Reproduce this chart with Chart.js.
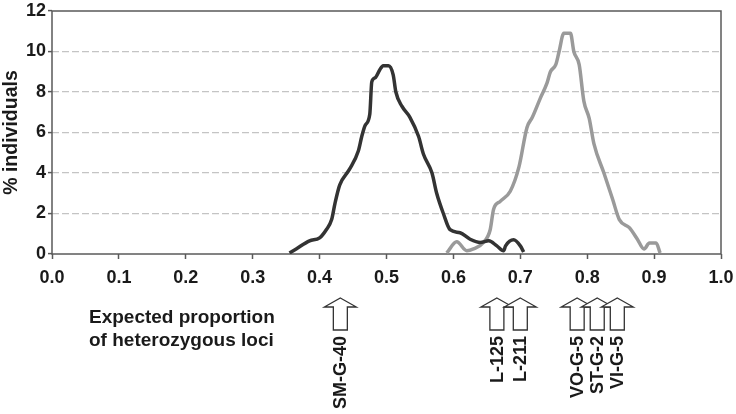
<!DOCTYPE html>
<html>
<head>
<meta charset="utf-8">
<script src="https://cdn.jsdelivr.net/npm/chart.js@4/dist/chart.umd.min.js"></script>
<style>
  html, body { margin: 0; padding: 0; background: #fff; }
  #wrap { width: 736px; height: 414px; position: relative; }
</style>
</head>
<body>
<div id="wrap"><canvas id="c" width="736" height="414"></canvas></div>
<script>
// ---- data ----
const darkX = [0.355, 0.365, 0.385, 0.40, 0.41, 0.418, 0.423, 0.43, 0.445, 0.458, 0.463, 0.468, 0.475, 0.478, 0.483, 0.49, 0.495, 0.503, 0.51, 0.514, 0.523, 0.535, 0.548, 0.555, 0.568, 0.575, 0.585, 0.595, 0.61, 0.625, 0.64, 0.653, 0.665, 0.675, 0.678, 0.69, 0.70, 0.705];
const darkY = [0.05, 0.25, 0.65, 0.8, 1.2, 1.7, 2.5, 3.4, 4.2, 5.1, 5.8, 6.35, 6.9, 8.5, 8.7, 9.1, 9.3, 9.3, 8.85, 8.0, 7.3, 6.75, 5.8, 4.95, 4.0, 3.0, 2.0, 1.2, 1.05, 0.73, 0.57, 0.65, 0.4, 0.16, 0.4, 0.7, 0.4, 0.1];
const lightX = [0.59, 0.605, 0.62, 0.63, 0.645, 0.655, 0.66, 0.67, 0.685, 0.698, 0.71, 0.718, 0.73, 0.74, 0.745, 0.753, 0.758, 0.765, 0.775, 0.78, 0.788, 0.795, 0.803, 0.81, 0.825, 0.838, 0.848, 0.863, 0.875, 0.885, 0.893, 0.903, 0.909];
const lightY = [0.05, 0.6, 0.16, 0.25, 0.57, 1.2, 2.2, 2.6, 3.1, 4.3, 6.25, 6.75, 7.7, 8.45, 9.0, 9.35, 10.0, 10.9, 10.9, 10.0, 9.35, 7.55, 6.7, 5.45, 4.0, 2.7, 1.7, 1.3, 0.73, 0.25, 0.54, 0.54, 0.05];
const arrowX = [0.431, 0.665, 0.700, 0.785, 0.815, 0.845];
const arrowLabels = ["SM-G-40", "L-125", "L-211", "VO-G-5", "ST-G-2", "VI-G-5"];
const xTickLabels = ["0.0", "0.1", "0.2", "0.3", "0.4", "0.5", "0.6", "0.7", "0.8", "0.9", "1.0"];
const yTickLabels = ["0", "2", "4", "6", "8", "10", "12"];
const yTitle = "% individuals";
const xTitleLines = ["Expected proportion", "of heterozygous loci"];

const FONT = "'Liberation Sans', Arial, sans-serif";
Chart.defaults.font.family = FONT;
Chart.defaults.font.size = 18;
Chart.defaults.font.weight = 'bold';
Chart.defaults.color = '#1a1a1a';

const toPts = (xs, ys) => xs.map((x, i) => ({ x: x, y: ys[i] }));

const extras = {
  id: 'extras',
  beforeDatasetsDraw(chart) {
    const { ctx, chartArea: a } = chart;
    ctx.save();
    ctx.strokeStyle = '#5a5a5a';
    ctx.lineWidth = 1.5;
    ctx.strokeRect(a.left, a.top, a.right - a.left, a.bottom - a.top);
    ctx.restore();
  },
  afterDraw(chart) {
    const { ctx } = chart;
    const xs = chart.scales.x;
    ctx.save();
    ctx.fillStyle = '#1a1a1a';
    ctx.font = "bold 19px " + FONT;
    ctx.textAlign = 'left';
    ctx.textBaseline = 'alphabetic';
    ctx.fillText(xTitleLines[0], 89, 323);
    ctx.fillText(xTitleLines[1], 89, 346);
    const top = 298, headBase = 307, bottom = 330, hw = 16, sw = 7;
    arrowX.forEach((v) => {
      const cx = xs.getPixelForValue(v);
      ctx.beginPath();
      ctx.moveTo(cx, top);
      ctx.lineTo(cx + hw, headBase);
      ctx.lineTo(cx + sw, headBase);
      ctx.lineTo(cx + sw, bottom);
      ctx.lineTo(cx - sw, bottom);
      ctx.lineTo(cx - sw, headBase);
      ctx.lineTo(cx - hw, headBase);
      ctx.closePath();
      ctx.fillStyle = '#fff';
      ctx.fill();
      ctx.strokeStyle = '#333';
      ctx.lineWidth = 1.3;
      ctx.stroke();
    });
    ctx.fillStyle = '#1a1a1a';
    ctx.font = "bold 18px " + FONT;
    arrowX.forEach((v, i) => {
      const cx = xs.getPixelForValue(v);
      ctx.save();
      ctx.translate(cx, 336);
      ctx.rotate(-Math.PI / 2);
      ctx.textAlign = 'right';
      ctx.textBaseline = 'middle';
      ctx.fillText(arrowLabels[i], 0, 1);
      ctx.restore();
    });
    ctx.restore();
  }
};

new Chart(document.getElementById('c'), {
  type: 'line',
  data: {
    datasets: [
      { data: toPts(darkX, darkY), borderColor: '#333333', borderWidth: 3.5, pointRadius: 0, cubicInterpolationMode: 'monotone', fill: false },
      { data: toPts(lightX, lightY), borderColor: '#9a9a9a', borderWidth: 3.5, pointRadius: 0, cubicInterpolationMode: 'monotone', fill: false }
    ]
  },
  options: {
    responsive: false,
    animation: false,
    devicePixelRatio: 1,
    layout: { padding: { top: 11, right: 15, left: 0, bottom: 0 } },
    plugins: { legend: { display: false }, tooltip: { enabled: false } },
    scales: {
      x: {
        type: 'linear', min: 0, max: 1,
        afterFit(s) { s.height = 160; s.paddingLeft = 0; s.paddingRight = 0; },
        afterBuildTicks(s) { s.ticks = xTickLabels.map(t => ({ value: parseFloat(t) })); },
        ticks: { callback: (v, i) => xTickLabels[i], padding: 8, maxRotation: 0, autoSkip: false, color: '#1a1a1a' },
        grid: { drawOnChartArea: false, drawTicks: true, tickLength: 5, tickColor: '#5a5a5a', tickWidth: 1.5 },
        border: { display: false }
      },
      y: {
        type: 'linear', min: 0, max: 12,
        afterFit(s) { s.width = 52; s.paddingTop = 0; s.paddingBottom = 0; },
        afterBuildTicks(s) { s.ticks = yTickLabels.map(t => ({ value: parseFloat(t) })); },
        ticks: { callback: (v, i) => yTickLabels[i], padding: 2, autoSkip: false, color: '#1a1a1a' },
        grid: {
          color: (c) => (c.tick && (c.tick.value === 0 || c.tick.value === 12)) ? 'rgba(0,0,0,0)' : '#c4c4c4',
          lineWidth: 1.2, tickLength: 4, tickColor: '#5a5a5a', tickWidth: 1.5
        },
        border: { display: false, dash: [7, 3] },
        title: { display: true, text: yTitle, padding: 0, color: '#1a1a1a', font: { size: 19.5, weight: 'bold' } }
      }
    }
  },
  plugins: [extras]
});
</script>
</body>
</html>
